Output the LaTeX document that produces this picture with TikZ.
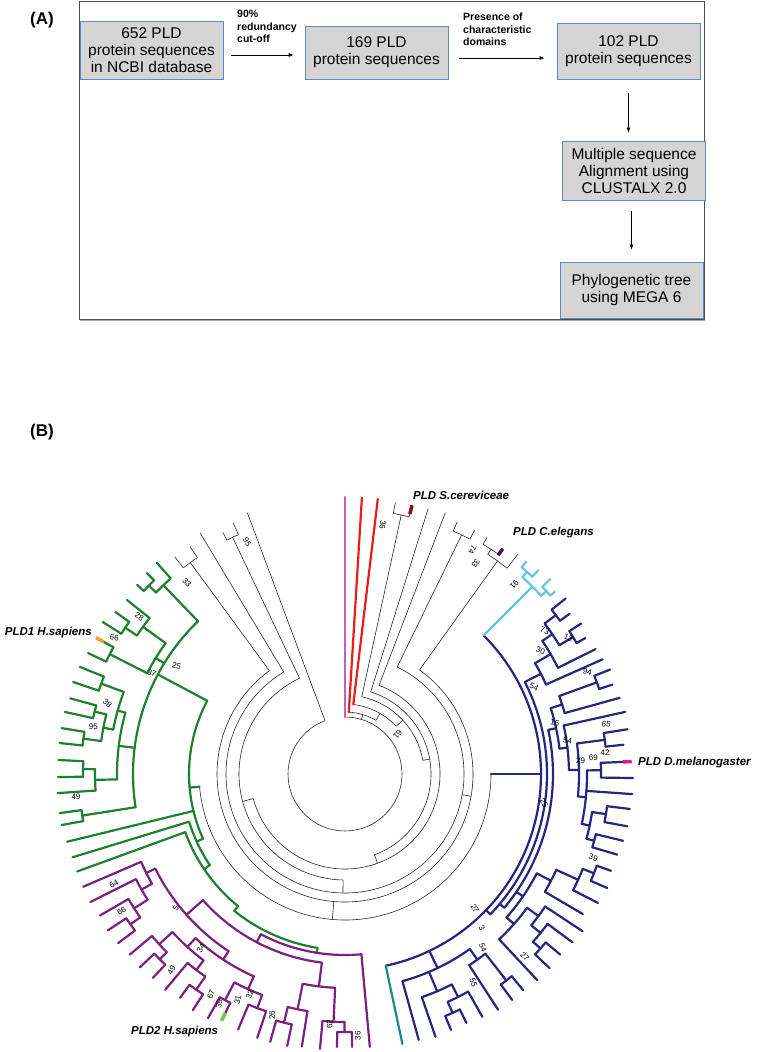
\documentclass[tikz,border=0pt]{standalone}
\usepackage{fontspec}
\setmainfont{Liberation Sans}
\usetikzlibrary{arrows.meta}
\definecolor{boxgray}{RGB}{212,212,212}
\definecolor{boxblue}{RGB}{100,135,190}
\definecolor{treegrn}{RGB}{30,128,48}
\definecolor{treeprp}{RGB}{122,32,126}
\definecolor{treenvy}{RGB}{38,38,128}
\definecolor{treecyn}{RGB}{105,196,218}
\definecolor{treetea}{RGB}{20,140,140}
\definecolor{treeorc}{RGB}{192,96,192}
\definecolor{treered}{RGB}{232,28,28}
\definecolor{mkred}{RGB}{130,20,20}
\definecolor{mkcel}{RGB}{70,20,80}
\definecolor{mkorg}{RGB}{245,160,40}
\definecolor{mkgrn}{RGB}{110,200,80}
\definecolor{mkpnk}{RGB}{230,20,140}
\tikzset{
  stepbox/.style={draw=boxblue, fill=boxgray, line width=0.8pt, minimum width=143pt,
    align=center, inner sep=2pt, font=\fontsize{15.5}{17}\selectfont},
  cutnote/.style={align=left, inner sep=0pt, font=\bfseries\fontsize{10.5}{12.5}\selectfont},
  flow/.style={-{Latex[length=5pt,width=4pt]}, line width=0.7pt},
  twig/.style={line width=0.6pt, draw=black!85},
  clade/.style={line width=2.2pt, draw=#1, line cap=round},
  boot/.style={inner sep=0pt, font=\fontsize{8}{9}\selectfont},
  species/.style={inner sep=0pt, font=\bfseries\itshape\fontsize{11.5}{13}\selectfont},
  panel/.style={inner sep=0pt, font=\bfseries\fontsize{17}{20}\selectfont},
}

\begin{document}
\begin{tikzpicture}[x=1pt, y=-1pt]
  \useasboundingbox (0,0) rectangle (756,1052);

  % (A) workflow
  \node[panel] (tagA) at (42,20) {(A)};
  \draw[gray!70, line width=1.6pt] (80,320) -- (705,320);
  \draw[line width=0.7pt, draw=black!70] (79,1) rectangle (704,319);

  \node[stepbox, minimum height=58pt] (src) at (151.5,50) {652 PLD\\protein sequences\\in NCBI database};
  \node[stepbox, minimum height=53pt] (nr) at (376.5,52.5) {169 PLD\\protein sequences};
  \node[stepbox, minimum height=56pt] (dom) at (628.5,51) {102 PLD\\protein sequences};
  \node[stepbox, minimum height=59pt] (msa) at (634,170.5) {Multiple sequence\\Alignment using\\CLUSTALX 2.0};
  \node[stepbox, minimum height=56pt] (mega) at (631.5,290) {Phylogenetic tree\\using MEGA 6};

  \node[cutnote, anchor=north west] (cut) at (237,10) {90\%\\redundancy\\cut-off};
  \node[cutnote, anchor=north west] (pres) at (463,13) {Presence of\\characteristic\\domains};

  \draw[flow] ([xshift=8pt,yshift=-5pt]src.east) -- ([xshift=-11pt,yshift=-2.5pt]nr.west);
  \draw[flow] ([xshift=11pt,yshift=-5.5pt]nr.east) -- ([xshift=-12pt,yshift=-7pt]dom.west);
  \draw[flow] ([yshift=-14pt]dom.south) -- ([yshift=8pt]dom.south |- msa.north);
  \draw[flow] ([yshift=-11pt]msa.south -| mega.north) -- ([yshift=12pt]mega.north);

  % (B) circular tree
  \node[panel] (tagB) at (42,432) {(B)};

  \begin{scope}[shift={(345,774)}]
    \foreach \r/\a/\b in {57/0/339.5, 62/3.5/30, 70/6.8/47, 79/12.25/80, 86/17.4/160,
        95/21/255, 106/181/334.6, 119/26/329, 128/35.6/323.8, 146/90/265,
        265/10.5/14, 262/333.2/336, 262/321.9/325.7, 266/24/28, 262/33/38.2, 268/31/35}
      \draw[twig] (\a-90:\r) arc[start angle=\a-90, end angle=\b-90, radius=\r];
    \foreach \t/\p/\q in {16.75/57/62, 30/62/70, 47/70/79, 80/79/86, 160/86/95, 255/95/106,
        181/106/119, 100/119/128, 185/128/146,
        339.5/57/279, 334.6/106/262, 333.2/262/271, 336/262/275, 329/119/281,
        12.25/79/265, 10.5/265/276, 14/265/277, 323.8/128/262, 321.9/262/276, 325.7/262/275,
        17.4/86/278, 21/95/280, 26/119/266, 24/266/276, 28/266/276,
        35.6/128/262, 33/262/268, 31/268/276, 35/268/275, 38.2/262/280}
      \draw[twig] (\t-90:\p) -- (\t-90:\q);

    \draw[clade=treeorc] (0-90:57) -- (0-90:277);
    \draw[clade=treered] (3.5-90:62) -- (3.5-90:277);
    \draw[clade=treered] (6.8-90:70) -- (6.8-90:277);

    % navy, cyan and teal clade
    \foreach \r/\a/\b in {196/45/168, 202/62.9/134, 208/77.75/130, 216/72.25/83.25, 228/70/74.5,
        268/68.5/71.5, 224/77.5/89, 234/82.5/95.5, 262/81/84, 242/89.15/101.9, 256/87.5/90.8,
        250/98.75/105, 264/97/100.5, 258/103.5/106.5, 216/117.4/131.6, 232/114.4/120.5,
        256/111.75/117, 268/110/113.5, 226/126.3/137, 240/123.5/129.1, 252/126.5/131.75,
        262/130/133.5, 215/144.5/164.5, 228/142/147, 262/140.5/143.5, 236/153.1/161,
        250/150.5/155.75, 262/154/157.5, 220/59.75/66, 238/56/63.5, 250/53/59,
        264/51.5/54.5, 266/57.5/60.5}
      \draw[clade=treenvy] (\a-90:\r) arc[start angle=\a-90, end angle=\b-90, radius=\r];
    \foreach \t/\p/\q in {90/146/196, 134/196/202, 154.5/196/215, 62.9/202/220, 130/202/208,
        77.75/208/216, 124.5/208/216, 72.25/216/228, 83.25/216/224, 70/228/268, 89/224/234,
        82.5/234/262, 95.5/234/242, 89.15/242/256, 101.9/242/250, 98.75/250/264, 105/250/258,
        117.4/216/232, 131.6/216/226, 114.4/232/256, 111.75/256/268, 126.3/226/240,
        129.1/240/252, 131.75/252/262, 144.5/215/228, 157/215/236, 142/228/262,
        153.1/236/250, 155.75/250/262, 59.75/220/238, 56/238/250, 53/250/264, 59/250/266,
        68.5/268/285, 71.5/268/282, 74.5/228/285, 77.5/224/287, 81/262/286, 84/262/280,
        87.5/256/285, 90.8/256/288, 94/242/288, 97/264/287, 100.5/264/287, 103.5/258/286,
        106.5/258/284, 110/268/283, 113.5/268/286, 117/256/284, 120.5/232/276, 123.5/240/285,
        126.5/252/283, 130/262/281, 133.5/262/282, 137/226/282, 140.5/262/280, 143.5/262/281,
        147/228/281, 150.5/250/279, 154/262/277, 157.5/262/277, 161/236/278, 164.5/215/276,
        66/220/282, 63.5/238/280, 51.5/264/282, 54.5/264/276, 57.5/266/280, 60.5/266/276}
      \draw[clade=treenvy] (\t-90:\p) -- (\t-90:\q);
    \foreach \r/\a/\b in {265/42/47.75, 272/40.5/43.5, 272/46.5/49}
      \draw[clade=treecyn] (\a-90:\r) arc[start angle=\a-90, end angle=\b-90, radius=\r];
    \foreach \t/\p/\q in {45/196/265, 42/265/272, 47.75/265/272, 40.5/272/279, 43.5/272/281,
        46.5/272/283, 49/272/278}
      \draw[clade=treecyn] (\t-90:\p) -- (\t-90:\q);
    \draw[clade=treetea] (168-90:196) -- (168-90:276);

    % green clade
    \foreach \r/\a/\b in {156/245.5/298, 163/236/253, 170/219/250, 176/189/219, 212/261/316.1,
        262/313.85/318.3, 272/312.3/315.4, 222/297/306.1, 250/303.65/308.6, 264/302.1/305.2,
        264/295.2/298.7, 228/268.65/285.6, 236/280.85/290.35, 260/288.7/292, 246/277.7/284,
        264/276.2/279.2, 258/282.5/285.4, 250/266.2/271.1, 262/269.4/272.8, 266/259.8/262.2}
      \draw[clade=treegrn] (\a-90:\r) arc[start angle=\a-90, end angle=\b-90, radius=\r];
    \foreach \t/\p/\q in {265/146/156, 298/156/212, 256.3/156/286, 245.5/156/163, 253/163/285,
        236/163/170, 250/170/285, 219/170/176, 189/176/181, 261/212/266, 277.1/212/228,
        301.5/212/222, 316.1/212/262, 313.85/262/272, 318.3/262/283, 312.3/272/281,
        315.4/272/282, 306.1/222/250, 297/222/264, 303.65/250/264, 308.6/250/279,
        302.1/264/286, 305.2/264/281, 295.2/264/284, 298.7/264/283, 268.65/228/250,
        285.6/228/236, 280.85/236/246, 290.35/236/260, 288.7/260/287, 292/260/286,
        277.7/246/264, 284/246/258, 276.2/264/287, 279.2/264/287, 282.5/258/287,
        285.4/258/285, 266.2/250/288, 271.1/250/262, 269.4/262/287, 272.8/262/287,
        259.8/266/288, 262.2/266/288}
      \draw[clade=treegrn] (\t-90:\p) -- (\t-90:\q);

    % purple clade
    \foreach \r/\a/\b in {181/174.8/207.7, 190/187/228.4, 214/182.65/191.4, 248/180.1/185.2,
        258/178.5/181.7, 240/189/193.8, 256/192/195.6, 212/213.3/243.5, 222/204.25/222.35,
        222/240.4/246.7, 234/237.5/243.3, 250/235/240, 262/233.3/236.6, 236/200.55/207.95,
        250/198.4/202.7, 256/206.6/209.3, 234/217.2/227.5, 246/214.6/219.8, 262/212.8/216.4,
        252/225/230, 262/223.3/226.7}
      \draw[clade=treeprp] (\a-90:\r) arc[start angle=\a-90, end angle=\b-90, radius=\r];
    \foreach \t/\p/\q in {174.8/181/274, 207.7/181/190, 187/190/214, 228.4/190/212,
        182.65/214/248, 191.4/214/240, 180.1/248/258, 185.2/248/276, 178.5/258/273,
        181.7/258/273, 189/240/276, 193.8/240/256, 192/256/278, 195.6/256/278,
        213.3/212/222, 243.5/212/222, 240.4/222/234, 246.7/222/285, 237.5/234/250,
        243.3/234/285, 235/250/262, 240/250/283, 233.3/262/283, 236.6/262/284,
        204.25/222/236, 222.35/222/234, 200.55/236/250, 207.95/236/256, 198.4/250/278,
        202.7/250/277, 206.6/256/275, 209.3/256/280, 217.2/234/246, 227.5/234/252,
        214.6/246/262, 219.8/246/281, 212.8/262/281, 216.4/262/278, 225/252/262,
        230/252/281, 223.3/262/280, 226.7/262/282}
      \draw[clade=treeprp] (\t-90:\p) -- (\t-90:\q);

    % tagged sequences
    \foreach \t/\p/\q/\c in {14/268/277/mkred, 35/267/275/mkcel, 298.7/275/284/mkorg,
        206.6/267/276/mkgrn, 87.5/278/287/mkpnk}
      \draw[line width=3.5pt, draw=\c] (\t-90:\p) -- (\t-90:\q);

    % bootstrap values
    \foreach \t/\r/\ro/\s [count=\i] in {8.6/252/-95/36, 29.6/258/-115/74, 31.8/248/-120/33,
        41.8/254/-130/91, 337.2/252/-60/95, 53/66/-130/61, 54.3/246/-20/73, 58.6/262/-20/12,
        57.8/231/-20/30, 65.3/208/-25/54, 67.2/263/-15/94, 76.2/216/-10/16, 81.5/225/-10/54,
        79.2/266/-10/65, 85.4/261/0/42, 86.8/236/0/29, 86.2/249/0/69, 98.3/201/-60/25,
        108.6/262/-20/39, 136/187/-60/27, 138.4/206/-60/3, 141.6/222/-70/54, 148.4/245/-70/55,
        135.4/256/-45/27, 320.4/248/-45/33, 307.4/259/-30/28, 300.6/268/-10/66,
        297.6/218/-20/37, 302.6/200/-15/25, 286.6/248/-40/38, 280.6/256/0/95, 265.2/270/0/49,
        244.5/256/30/64, 238.5/262/30/66, 231.5/216/60/5, 219.6/226/60/34, 221.5/262/60/49,
        211.3/258/70/67, 203.4/240/70/32, 205.4/250/80/31, 208.7/262/80/39, 196.8/252/90/26,
        183.5/251/90/62, 177.2/262/90/36}
      \node[boot, rotate=\ro] (bs\i) at (\t-90:\r) {\s};
  \end{scope}

  \node[species, anchor=west] (scer) at (413,495) {PLD S.cereviceae};
  \node[species, anchor=west] (cele) at (513,533) {PLD C.elegans};
  \node[species, anchor=east] (hsa1) at (92,633) {PLD1 H.sapiens};
  \node[species, anchor=west] (dmel) at (638,763) {PLD D.melanogaster};
  \node[species, anchor=west] (hsa2) at (131,1032) {PLD2 H.sapiens};
\end{tikzpicture}
\end{document}
